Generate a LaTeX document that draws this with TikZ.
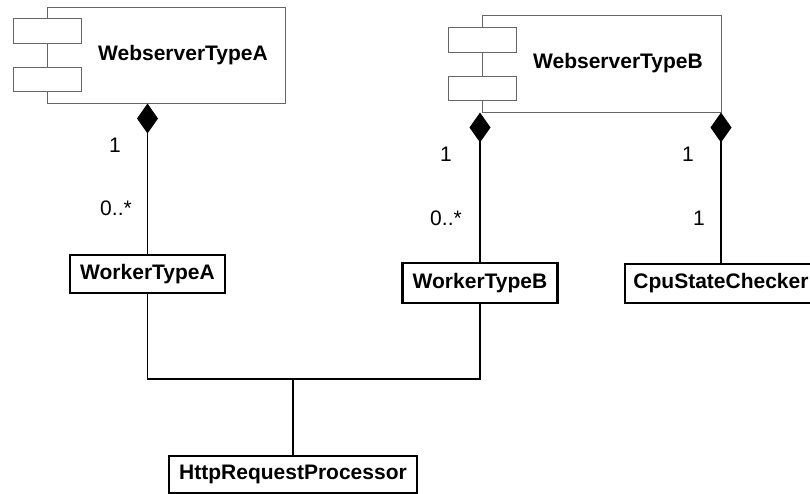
\documentclass[tikz,border=0pt]{standalone}
\usepackage{fontspec}
\setmainfont{Liberation Sans}
\usetikzlibrary{arrows.meta}
\tikzset{
	cls/.style={draw,line width=2.2pt,font=\fontsize{21}{25}\selectfont\bfseries,minimum height=38pt,inner sep=0pt},
	comp/.style={draw=black!60,line width=1pt,inner sep=0pt},
	port/.style={draw=black!60,fill=white,line width=1pt,minimum width=68pt,minimum height=25pt,inner sep=0pt},
	ttl/.style={font=\fontsize{21}{25}\selectfont\bfseries},
	mult/.style={font=\fontsize{21}{25}\selectfont},
	part/.style={line width=1.5pt,-{Diamond[length=30pt,width=21pt]}}
}
\begin{document}
\begin{tikzpicture}[x=1pt,y=-1pt,line join=miter]
	\useasboundingbox (0,0) rectangle (810,493);
	% components
	\node[comp,minimum width=238pt,minimum height=96pt] (wsA) at (166,55) {};
	\node[port] (pA1) at (47,30.5) {};
	\node[port,minimum height=24pt] (pA2) at (47,79) {};
	\node[ttl] (tA) at (183,55) {WebserverTypeA};
	\node[comp,minimum width=239pt,minimum height=97pt] (wsB) at (601.5,63.5) {};
	\node[port] (pB1) at (482,39.5) {};
	\node[port,minimum height=24pt] (pB2) at (482,88) {};
	\node[ttl] (tB) at (618,63) {WebserverTypeB};
	% classes
	\node[cls,minimum width=155pt] (wA) at (147.5,274) {WorkerTypeA};
	\node[cls,minimum width=155pt,minimum height=40pt] (wB) at (480,283) {WorkerTypeB};
	\node[cls,minimum width=192pt,minimum height=39pt] (cpu) at (721,283.5) {CpuStateChecker};
	\node[cls,minimum width=248pt,minimum height=37pt] (http) at (293,474.5) {HttpRequestProcessor};
	\coordinate (bus) at (293,379);
	% links
	\draw[part] (wA.north) -- (wA.north |- wsA.south);
	\draw[part] (wB.north) -- (wB.north |- wsB.south);
	\draw[part] (cpu.north) -- (cpu.north |- wsB.south);
	\draw[line width=1.5pt] (wA.south) |- (bus) -| (wB.south);
	\draw[line width=1.5pt] (http.north) -- (bus);
	\foreach \x/\y/\t [count=\i] in {115/145/1,116/208/0..*,446/154/1,446/218/0..*,688/154/1,699/218/1}{
		\node[mult] (m\i) at (\x,\y) {\t};}
\end{tikzpicture}
\end{document}
